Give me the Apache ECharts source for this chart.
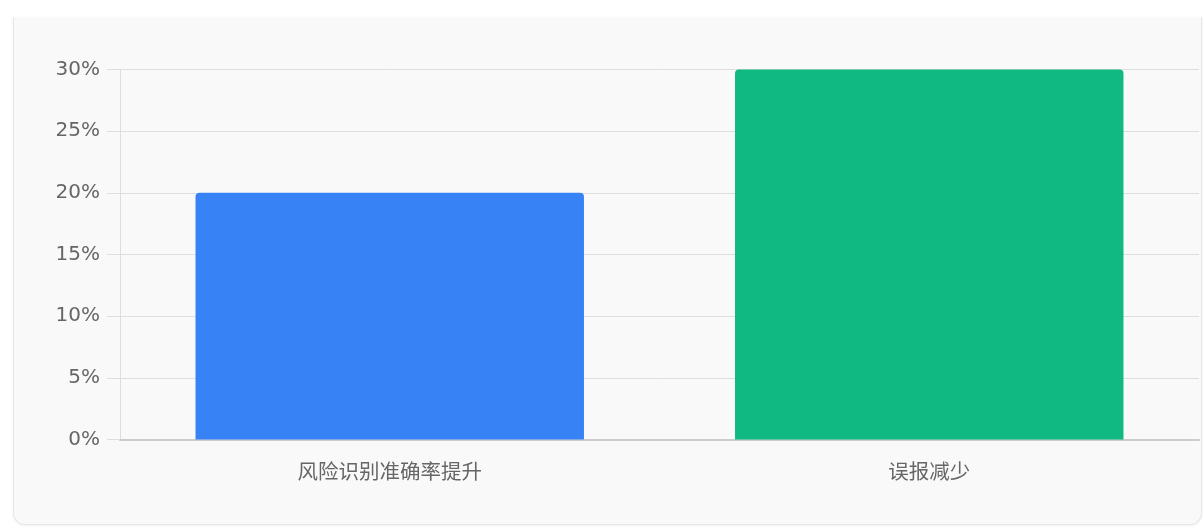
<!DOCTYPE html>
<html><head><meta charset="utf-8">
<script src="https://cdn.jsdelivr.net/npm/echarts@6/dist/echarts.min.js"></script>
<style>
html,body{margin:0;padding:0;background:#fff;width:1204px;height:532px;overflow:hidden;}
#card{position:absolute;left:13px;top:17px;width:1187px;height:507px;background:#f9f9f9;border:1px solid #e6e6e6;border-top:none;border-radius:0 0 12px 12px;box-shadow:0 1px 3px rgba(0,0,0,0.06);}
#chart{position:absolute;left:0;top:0;width:1204px;height:532px;}
</style></head>
<body>
<div id="card"></div>
<div id="chart"></div>
<script>
const categories = ['风险识别准确率提升', '误报减少'];
const values = [20, 30];
const colors = ['#3783f5', '#10b981'];
const yTicks = { min: 0, max: 30, interval: 5 };

const chart = echarts.init(document.getElementById('chart'));
chart.setOption({
  backgroundColor: 'transparent',
  animation: false,
  grid: { left: 120, right: 5, top: 69.5, bottom: 92.5 },
  xAxis: {
    type: 'category',
    data: categories,
    axisLine: { lineStyle: { color: '#cccccc', width: 2 } },
    axisTick: { show: false },
    axisLabel: { color: '#666', fontSize: 20.5, margin: 21, fontFamily: 'Noto Sans CJK SC, DejaVu Sans, sans-serif' }
  },
  yAxis: {
    type: 'value',
    min: yTicks.min, max: yTicks.max, interval: yTicks.interval,
    axisLine: { show: true, lineStyle: { color: '#dddddd', width: 1 } },
    axisTick: { show: true, length: 13, lineStyle: { color: '#dddddd' } },
    splitLine: { lineStyle: { color: '#dedede', width: 1 } },
    axisLabel: { color: '#666', fontSize: 20, margin: 20, formatter: '{value}%', fontFamily: 'DejaVu Sans, sans-serif' }
  },
  series: [{
    type: 'bar',
    barWidth: '72%',
    data: values.map((v, i) => ({ value: v, itemStyle: { color: colors[i], borderRadius: [4, 4, 0, 0] } }))
  }]
});
</script>
</body></html>
